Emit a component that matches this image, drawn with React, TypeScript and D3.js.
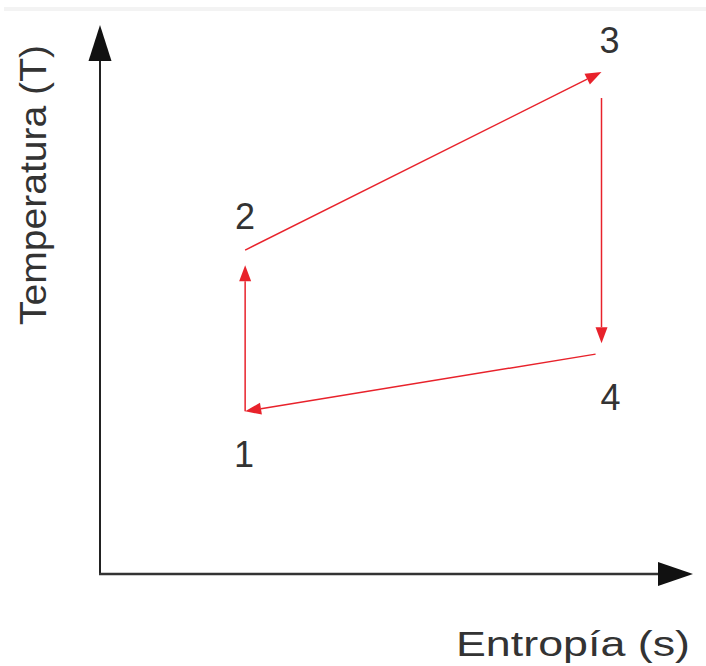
import React from "react";
import * as d3 from "d3";

// Thermodynamic states (Brayton cycle, T-s diagram)
const stateLabels = ["1", "2", "3", "4"];
const entropyValues = [2.46, 2.46, 8.5, 8.5];
const temperatureValues = [2.97, 5.91, 9.16, 4.03];
// processes: from state index -> to state index
const processFrom = [0, 1, 2, 3];
const processTo = [1, 2, 3, 0];
const axisLabels = ["Entropía (s)", "Temperatura (T)"];

const W = 706;
const H = 666;

// style: trimming (px) of each process arrow at start/end
const trimStart = [0, 0, 26, 6];
const trimEnd = [15, 0, 10, 0];
const labelOffset = [
  { dx: -1, dy: 56 },
  { dx: 0, dy: -21 },
  { dx: 8, dy: -19 },
  { dx: 9, dy: 57 },
];

const RED = "#e8222b";
const FONT = "'Liberation Sans', Arial, sans-serif";

export default function App() {
  const x = d3.scaleLinear().domain([0, 10]).range([100, 690]);
  const y = d3.scaleLinear().domain([0, 10]).range([574, 26]);

  const pts = stateLabels.map((l, i) => ({
    label: l,
    x: x(entropyValues[i]),
    y: y(temperatureValues[i]),
  }));

  const segs = processFrom.map((f, i) => {
    const a = pts[f];
    const b = pts[processTo[i]];
    const dx = b.x - a.x;
    const dy = b.y - a.y;
    const len = Math.hypot(dx, dy);
    const ux = dx / len;
    const uy = dy / len;
    const sx = a.x + ux * trimStart[i];
    const sy = a.y + uy * trimStart[i];
    const ex = b.x - ux * trimEnd[i];
    const ey = b.y - uy * trimEnd[i];
    const headL = 16;
    const headW = 6;
    const bx = ex - ux * headL;
    const by = ey - uy * headL;
    const px = -uy;
    const py = ux;
    const head = [
      [ex, ey],
      [bx + px * headW, by + py * headW],
      [bx - px * headW, by - py * headW],
    ];
    return { sx, sy, ex, ey, bx, by, head };
  });

  const line = d3.line();

  return (
    <svg
      width={W}
      height={H}
      style={{ position: "absolute", left: 0, top: 0, background: "#fff" }}
    >
      <rect x={4} y={7} width={W - 4} height={4} fill="#f3f3f3" />
      {/* y axis */}
      <line x1={100} y1={575} x2={100} y2={58} stroke="#222" strokeWidth={2} />
      <path d={line([[100, 25], [88.5, 61], [111.5, 61]]) + "Z"} fill="#111" />
      {/* x axis */}
      <line x1={99} y1={574} x2={660} y2={574} stroke="#333" strokeWidth={2.5} />
      <path d={line([[693, 574], [658, 562], [658, 586]]) + "Z"} fill="#111" />

      {segs.map((s, i) => (
        <g key={i}>
          <line
            x1={s.sx}
            y1={s.sy}
            x2={s.bx}
            y2={s.by}
            stroke={RED}
            strokeWidth={1.5}
          />
          <path d={line(s.head as [number, number][]) + "Z"} fill={RED} />
        </g>
      ))}

      {pts.map((p, i) => (
        <text
          key={p.label}
          x={p.x + labelOffset[i].dx}
          y={p.y + labelOffset[i].dy}
          textAnchor="middle"
          fontFamily={FONT}
          fontSize={36}
          fill="#333"
        >
          {p.label}
        </text>
      ))}

      <text
        x={456}
        y={656}
        fontFamily={FONT}
        fontSize={35}
        textLength={234}
        lengthAdjust="spacingAndGlyphs"
        fill="#333"
      >
        {axisLabels[0]}
      </text>
      <text
        transform="translate(46,185) rotate(-90)"
        textAnchor="middle"
        fontFamily={FONT}
        fontSize={37}
        textLength={280}
        lengthAdjust="spacingAndGlyphs"
        fill="#333"
      >
        {axisLabels[1]}
      </text>
    </svg>
  );
}
